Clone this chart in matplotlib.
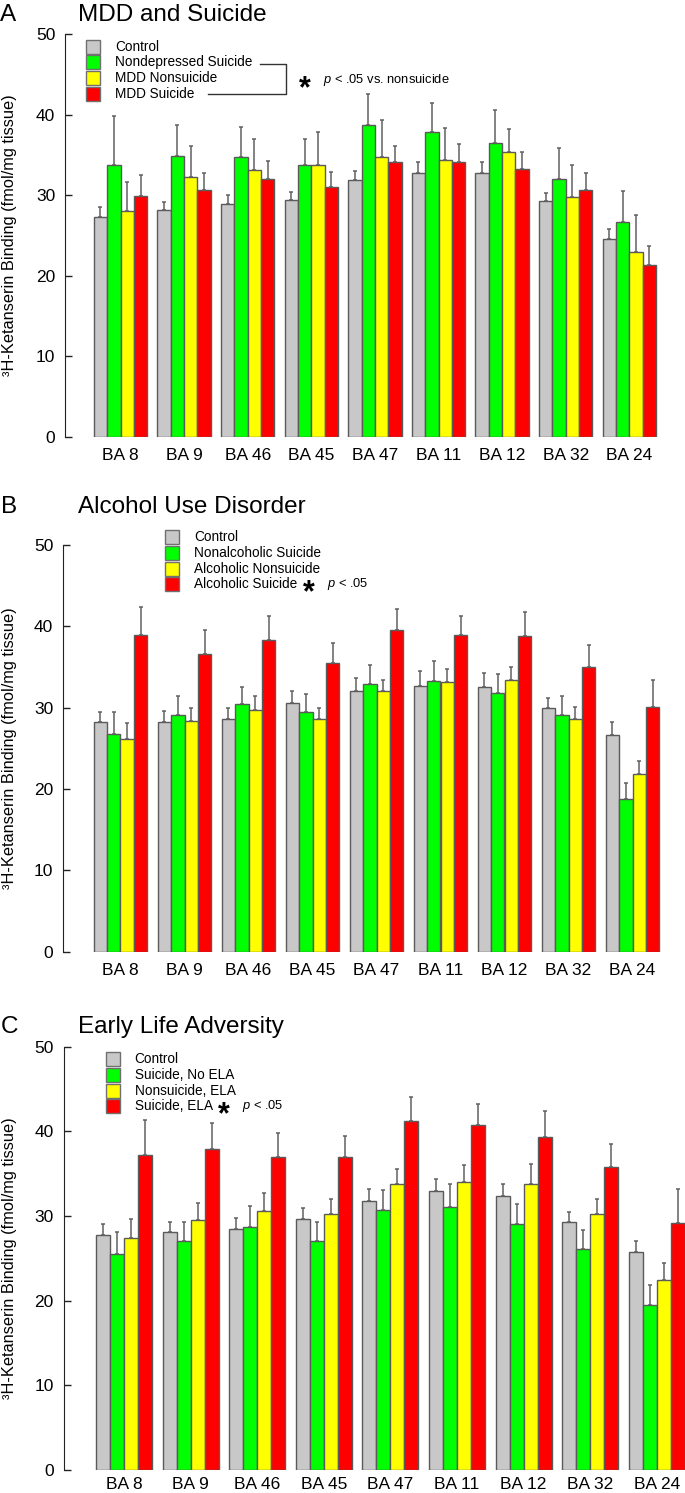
import matplotlib
matplotlib.use("Agg")
import matplotlib.pyplot as plt
from matplotlib.patches import Rectangle
from matplotlib.lines import Line2D
import numpy as np

plt.rcParams['font.family'] = ['Liberation Sans', 'DejaVu Sans']
plt.rcParams['mathtext.fontset'] = 'custom'
plt.rcParams['mathtext.it'] = 'Liberation Sans:italic'
plt.rcParams['mathtext.rm'] = 'Liberation Sans'

regions = ['BA 8', 'BA 9', 'BA 46', 'BA 45', 'BA 47', 'BA 11', 'BA 12', 'BA 32', 'BA 24']
colors = ['#c8c8c8', '#00ff00', '#ffff00', '#ff0000']

# panel A: MDD and suicide (mean, SEM) per group
a_labels = ['Control', 'Nondepressed Suicide', 'MDD Nonsuicide', 'MDD Suicide']
a_control = [27.3, 28.2, 28.9, 29.4, 31.9, 32.8, 32.8, 29.3, 24.6]
a_control_err = [1.2, 1.0, 1.1, 1.0, 1.1, 1.3, 1.3, 1.0, 1.2]
a_nondep = [33.8, 34.9, 34.7, 33.8, 38.7, 37.9, 36.5, 32.0, 26.7]
a_nondep_err = [6.0, 3.8, 3.8, 3.2, 3.9, 3.6, 4.1, 3.8, 3.8]
a_mdd_ns = [28.1, 32.3, 33.1, 33.7, 34.7, 34.4, 35.4, 29.8, 22.9]
a_mdd_ns_err = [3.5, 3.8, 3.9, 4.1, 4.6, 3.9, 2.8, 3.9, 4.7]
a_mdd_s = [29.9, 30.6, 32.0, 31.0, 34.1, 34.1, 33.3, 30.7, 21.4]
a_mdd_s_err = [2.6, 2.1, 2.2, 1.9, 2.0, 2.2, 2.1, 2.1, 2.3]

# panel B: alcohol use disorder
b_labels = ['Control', 'Nonalcoholic Suicide', 'Alcoholic Nonsuicide', 'Alcoholic Suicide']
b_control = [28.2, 28.3, 28.6, 30.6, 32.1, 32.7, 32.5, 29.9, 26.7]
b_control_err = [1.3, 1.3, 1.4, 1.5, 1.6, 1.8, 1.8, 1.3, 1.5]
b_nonalc_s = [26.8, 29.1, 30.4, 29.5, 32.9, 33.3, 31.8, 29.1, 18.8]
b_nonalc_s_err = [2.7, 2.3, 2.2, 2.2, 2.3, 2.4, 2.4, 2.3, 1.9]
b_alc_ns = [26.2, 28.4, 29.7, 28.6, 32.0, 33.1, 33.4, 28.6, 21.8]
b_alc_ns_err = [1.9, 1.6, 1.7, 1.4, 1.4, 1.6, 1.6, 1.5, 1.7]
b_alc_s = [38.9, 36.6, 38.3, 35.5, 39.5, 38.9, 38.8, 35.0, 30.1]
b_alc_s_err = [3.5, 2.9, 3.0, 2.4, 2.6, 2.4, 3.0, 2.7, 3.3]

# panel C: early life adversity
c_labels = ['Control', 'Suicide, No ELA', 'Nonsuicide, ELA', 'Suicide, ELA']
c_control = [27.7, 28.1, 28.5, 29.7, 31.8, 32.9, 32.4, 29.3, 25.7]
c_control_err = [1.3, 1.2, 1.3, 1.3, 1.4, 1.5, 1.4, 1.2, 1.4]
c_s_noela = [25.5, 27.0, 28.7, 27.0, 30.7, 31.1, 29.1, 26.1, 19.5]
c_s_noela_err = [2.6, 2.3, 2.5, 2.3, 2.4, 2.7, 2.3, 2.2, 2.4]
c_ns_ela = [27.4, 29.5, 30.6, 30.2, 33.8, 34.0, 33.8, 30.2, 22.4]
c_ns_ela_err = [2.3, 2.0, 2.1, 1.8, 1.8, 2.0, 2.4, 1.8, 2.1]
c_s_ela = [37.2, 37.9, 37.0, 37.0, 41.2, 40.7, 39.3, 35.8, 29.2]
c_s_ela_err = [4.1, 3.1, 2.8, 2.4, 2.8, 2.5, 3.1, 2.7, 4.0]

W, H = 685, 1493
fig = plt.figure(figsize=(W / 100, H / 100), dpi=100)


def fx(x):
    return x / W


def fy(y):
    return 1 - y / H


def panel(left, top, bottom, center0, pitch, means, errs, xpad=8):
    ax = fig.add_axes([fx(left), fy(bottom), fx(W - left), (bottom - top) / H])
    w = 0.84 / 4
    x = np.arange(len(regions))
    for i in range(4):
        xi = x + (i - 1.5) * w
        ax.bar(xi, means[i], w, color=colors[i], edgecolor='#5a5a5a', linewidth=1, zorder=2)
        ax.errorbar(xi, means[i], yerr=[np.zeros(len(regions)), errs[i]], fmt='none',
                    ecolor='#606060', elinewidth=1.1, capsize=1.6, capthick=1.1, zorder=3)
    ax.set_xlim(-(center0 - left) / pitch, (W - center0) / pitch)
    ax.set_ylim(0, 50)
    for s in ['top', 'right', 'bottom']:
        ax.spines[s].set_visible(False)
    ax.spines['left'].set_bounds(0, 50)
    ax.spines['left'].set_color('#222222')
    ax.set_yticks([0, 10, 20, 30, 40, 50])
    ax.tick_params(axis='y', direction='in', length=5, width=1, color='#222222',
                   labelsize=12.5, pad=7)
    ax.set_xticks(x)
    ax.set_xticklabels(regions)
    ax.tick_params(axis='x', length=0, labelsize=12.5, pad=xpad)
    fig.text(fx(9.5), fy((top + bottom) / 2), '³H-Ketanserin Binding (fmol/mg tissue)',
             rotation=90, ha='center', va='center', fontsize=11.8)
    return ax


def legend(px, rows, labels):
    for i, lab in enumerate(labels):
        yc = rows[i]
        fig.add_artist(Rectangle((fx(px), fy(yc + 7)), 14 / W, 14 / H, transform=fig.transFigure,
                                 facecolor=colors[i], edgecolor='#707070', linewidth=1))
        fig.text(fx(px + 29), fy(yc), lab, ha='left', va='center', fontsize=9.8)


def star(x, y, txt, tx):
    size = 22
    fig.text(fx(x), fy(y + 0.56 * size * 100 / 72), '*', ha='center', va='baseline',
             fontsize=size, fontweight='bold')
    fig.text(fx(tx), fy(y), txt, ha='left', va='center', fontsize=9.3)


# Panel A
panel(65, 34, 437, 120.5, 63.6,
      [a_control, a_nondep, a_mdd_ns, a_mdd_s],
      [a_control_err, a_nondep_err, a_mdd_ns_err, a_mdd_s_err])
fig.text(fx(0), fy(21), 'A', fontsize=17.5, va='baseline')
fig.text(fx(78), fy(21), 'MDD and Suicide', fontsize=17.5, va='baseline')
legend(86, [46.7, 62.3, 78.3, 93.7], a_labels)
fig.add_artist(Line2D([fx(260), fx(286), fx(286), fx(208)], [fy(64.3), fy(64.3), fy(94.3), fy(94.3)],
                      transform=fig.transFigure, color='#333333', linewidth=1))
star(305, 80, r'$p$ < .05 vs. nonsuicide', 323)

# Panel B
panel(63, 545, 951.7, 120.5, 64,
      [b_control, b_nonalc_s, b_alc_ns, b_alc_s],
      [b_control_err, b_nonalc_s_err, b_alc_ns_err, b_alc_s_err])
fig.text(fx(1), fy(513), 'B', fontsize=17.5, va='baseline')
fig.text(fx(78), fy(513), 'Alcohol Use Disorder', fontsize=17.5, va='baseline')
legend(165, [537.3, 553, 568.7, 584], b_labels)
star(309, 584, r'$p$ < .05', 326.7)

# Panel C
panel(63.5, 1046.7, 1470, 124, 66.6,
      [c_control, c_s_noela, c_ns_ela, c_s_ela],
      [c_control_err, c_s_noela_err, c_ns_ela_err, c_s_ela_err], xpad=5)
fig.text(fx(1), fy(1033), 'C', fontsize=17.5, va='baseline')
fig.text(fx(78), fy(1033), 'Early Life Adversity', fontsize=17.5, va='baseline')
legend(105.7, [1059.3, 1075, 1090.7, 1106], c_labels)
star(224, 1106, r'$p$ < .05', 241.7)

plt.savefig('out.png', dpi=100)
